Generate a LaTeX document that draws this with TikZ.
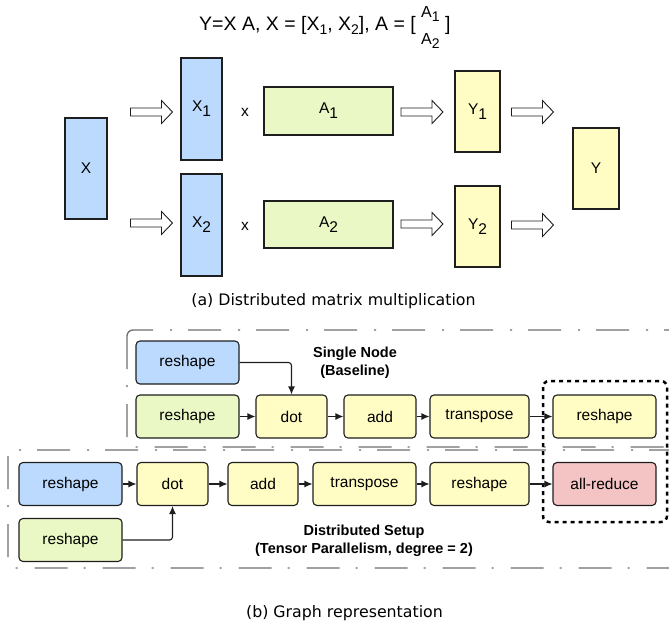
\documentclass[tikz,border=0pt]{standalone}
\usepackage{fontspec}
\setmainfont{Liberation Sans}
\newfontfamily\capfont{DejaVu Sans}
\usetikzlibrary{arrows.meta}

\definecolor{bluef}{RGB}{187,218,254}
\definecolor{greenf}{RGB}{234,248,197}
\definecolor{yellowf}{RGB}{255,253,196}
\definecolor{pinkf}{RGB}{244,195,195}
\definecolor{edgec}{RGB}{30,30,30}
\definecolor{dashc}{RGB}{110,110,110}

\newcommand\lowsub[1]{\raisebox{-5pt}{#1}}
\newcommand\tsub[1]{\raisebox{-4pt}{\fontsize{14}{14}\selectfont #1}}

\begin{document}
\begin{tikzpicture}[x=1pt,y=-1pt,
 mat/.style={draw=edgec, line width=1.1pt, inner sep=0pt, font=\fontsize{15.5}{15.5}\selectfont},
 gnode/.style={draw=edgec, line width=1.1pt, rounded corners=4pt, inner sep=0pt, minimum height=43, font=\fontsize{15.5}{15.5}\selectfont},
 harr/.pic={\draw[draw=edgec, line width=0.9pt, fill=white, line join=miter]
   (0,-4) -- (31,-4) -- (31,-11.5) -- (42,0) -- (31,11.5) -- (31,4) -- (0,4) -- cycle;},
 flow/.style={draw=edgec, line width=1.1pt, -{Latex[length=8pt,width=7pt]}},
 group/.style={draw=dashc, line width=1.3pt, rounded corners=6pt, dash pattern=on 33pt off 16pt on 2pt off 17pt},
 lbl/.style={font=\bfseries\fontsize{14.5}{18}\selectfont, align=center},
 txt/.style={font=\fontsize{15.5}{15.5}\selectfont, inner sep=0pt}
]
\useasboundingbox (0,0) rectangle (669,630);
\clip (0,0) rectangle (669,630);

% ---------- (a) ----------
\node[anchor=base west, font=\fontsize{19.5}{19.5}\selectfont, inner sep=0pt] (title) at (199,30)
 {Y=X A, X = [X\tsub{1}, X\tsub{2}], A = [ {\fontsize{16}{27}\selectfont\begin{tabular}{@{}c@{}}A\tsub{1}\\A\tsub{2}\end{tabular}} ]};

\node[mat, fill=bluef, minimum width=42, minimum height=101] (X) at (86,168.5) {X};
\node[mat, fill=bluef, minimum width=41, minimum height=102] (X1) at (201.5,109) {X\lowsub{1}};
\node[mat, fill=bluef, minimum width=41, minimum height=102] (X2) at (201.5,225) {X\lowsub{2}};
\node[mat, fill=greenf, minimum width=129, minimum height=48] (A1) at (328.5,111) {A\lowsub{1}};
\node[mat, fill=greenf, minimum width=129, minimum height=47] (A2) at (328.5,224.5) {A\lowsub{2}};
\node[mat, fill=yellowf, minimum width=45, minimum height=81] (Y1) at (477.5,111.5) {Y\lowsub{1}};
\node[mat, fill=yellowf, minimum width=45, minimum height=81] (Y2) at (477.5,226.5) {Y\lowsub{2}};
\node[mat, fill=yellowf, minimum width=46, minimum height=81] (Y) at (596,168.5) {Y};

\node[txt] (t1) at (245,112) {x};
\node[txt] (t2) at (245,226) {x};

\pic at (130.5,112) {harr};
\pic at (130.5,223) {harr};
\pic at (401,112) {harr};
\pic at (401,224) {harr};
\pic at (511.5,112) {harr};
\pic at (511.5,225) {harr};

\node[anchor=base, font=\capfont\fontsize{15.8}{16}\selectfont, inner sep=0pt] (capa) at (333.5,305) {(a) Distributed matrix multiplication};

% ---------- (b) ----------
\draw[group] (127,330) rectangle (676,447);
\draw[group] (8,450) rectangle (676,568);

\node[gnode, fill=bluef, minimum width=103] (sr1) at (187.5,362.5) {reshape};
\node[gnode, fill=greenf, minimum width=103] (sr2) at (187.5,416.5) {reshape};
\node[gnode, fill=yellowf, minimum width=71] (sdot) at (291.5,416.5) {dot};
\node[gnode, fill=yellowf, minimum width=72] (sadd) at (380,416.5) {add};
\node[gnode, fill=yellowf, minimum width=99] (strans) at (479.5,416.5) {transpose};
\node[gnode, fill=yellowf, minimum width=103] (sresh) at (604.5,416.5) {reshape};

\node[gnode, fill=bluef, minimum width=103] (dr1) at (70.5,484) {reshape};
\node[gnode, fill=greenf, minimum width=103] (dr2) at (70.5,540) {reshape};
\node[gnode, fill=yellowf, minimum width=71] (ddot) at (172.5,484) {dot};
\node[gnode, fill=yellowf, minimum width=70] (dadd) at (263,484) {add};
\node[gnode, fill=yellowf, minimum width=103] (dtrans) at (364.5,484) {transpose};
\node[gnode, fill=yellowf, minimum width=99] (dresh) at (479.5,484) {reshape};
\node[gnode, fill=pinkf, minimum width=103] (dall) at (604.5,484) {all-reduce};

\draw[line width=2.5pt, dash pattern=on 4pt off 4pt, rounded corners=6pt] (543,381) rectangle (667,522);

\draw[flow, rounded corners=3pt] (sr1.east) -| (sdot.north);
\draw[flow] (sr2.east) -- (sdot.west);
\draw[flow] (sdot.east) -- (sadd.west);
\draw[flow] (sadd.east) -- (strans.west);
\draw[flow] (strans.east) -- (sresh.west);

\draw[flow] (dr1.east) -- (ddot.west);
\draw[flow] (ddot.east) -- (dadd.west);
\draw[flow] (dadd.east) -- (dtrans.west);
\draw[flow] (dtrans.east) -- (dresh.west);
\draw[flow] (dresh.east) -- (dall.west);
\draw[flow, rounded corners=3pt] (dr2.east) -| (ddot.south);

\node[lbl] (single) at (355,363) {Single Node\\(Baseline)};
\node[lbl] (distr) at (364,541) {Distributed Setup\\(Tensor Parallelism, degree = 2)};

\node[anchor=base, font=\capfont\fontsize{15.8}{16}\selectfont, inner sep=0pt] (capb) at (344.5,617) {(b) Graph representation};
\end{tikzpicture}
\end{document}
